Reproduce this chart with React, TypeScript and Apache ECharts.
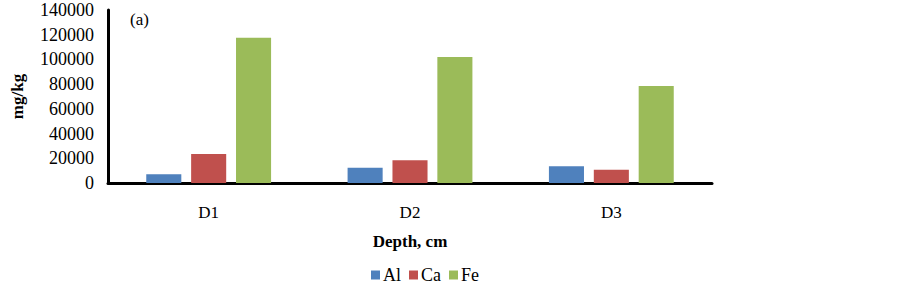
import React, { useEffect, useRef } from "react";
import * as echarts from "echarts";

const categories = ["D1", "D2", "D3"];
const seriesNames = ["Al", "Ca", "Fe"];
const alValues = [7000, 12300, 13600];
const caValues = [23500, 18500, 10800];
const feValues = [117500, 102000, 78500];
const colors = ["#4F81BD", "#C0504D", "#9BBB59"];

export default function App() {
  const ref = useRef<HTMLDivElement>(null);
  useEffect(() => {
    document.body.style.margin = "0";
    const chart = echarts.init(ref.current!, null, { renderer: "svg" });
    const font = "'Liberation Serif', 'Times New Roman', serif";
    const data = [alValues, caValues, feValues];
    chart.setOption({
      animation: false,
      backgroundColor: "#ffffff",
      textStyle: { fontFamily: font },
      grid: { left: 108, top: 10, right: 191, bottom: 102 },
      legend: {
        left: 366,
        top: 261,
        itemWidth: 9,
        itemHeight: 9,
        itemGap: 8,
        icon: "rect",
        textStyle: { fontFamily: font, fontSize: 18, color: "#000", padding: [0, 0, 0, -2] },
        data: seriesNames,
      },
      graphic: [
        {
          type: "text",
          left: 130,
          top: 11,
          style: { text: "(a)", font: `17px ${font}`, fill: "#000" },
        },
      ],
      xAxis: {
        type: "category",
        data: categories,
        axisLine: { lineStyle: { color: "#000", width: 3 } },
        axisTick: { show: false },
        axisLabel: { color: "#000", fontSize: 17, fontFamily: font, margin: 21 },
        name: "Depth, cm",
        nameLocation: "middle",
        nameGap: 50,
        nameTextStyle: { color: "#000", fontSize: 17, fontWeight: "bold", fontFamily: font },
      },
      yAxis: {
        type: "value",
        min: 0,
        max: 140000,
        interval: 20000,
        axisLine: { show: true, lineStyle: { color: "#000", width: 3 } },
        axisTick: { show: false },
        splitLine: { show: false },
        axisLabel: {
          color: "#000",
          fontSize: 18,
          fontFamily: font,
          margin: 14,
          formatter: (v: number) => String(v),
        },
        name: "mg/kg",
        nameLocation: "middle",
        nameGap: 82,
        nameRotate: 90,
        nameTextStyle: { color: "#000", fontSize: 17, fontWeight: "bold", fontFamily: font },
      },
      series: seriesNames.map((n, i) => ({
        name: n,
        type: "bar",
        data: data[i],
        barGap: "28%",
        barCategoryGap: "38%",
        itemStyle: { color: colors[i] },
      })),
    });
    return () => chart.dispose();
  }, []);
  return <div ref={ref} style={{ width: 903, height: 285 }} />;
}
